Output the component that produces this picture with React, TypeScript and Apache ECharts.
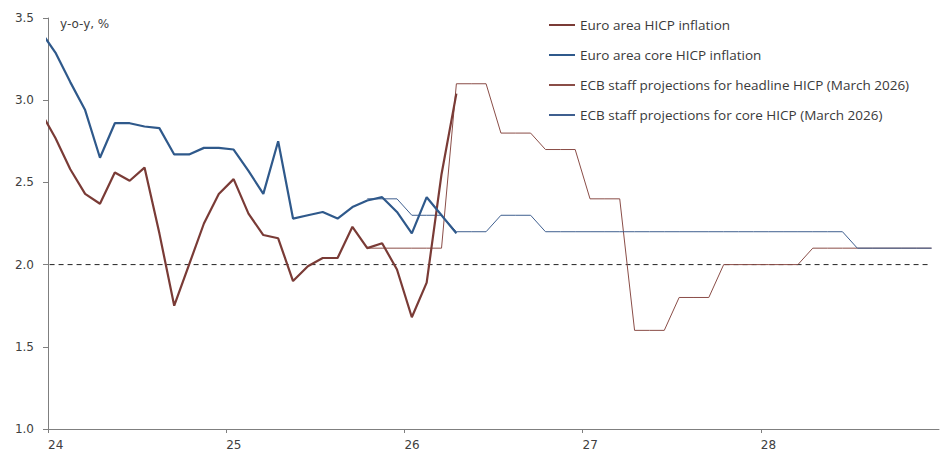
import React, { useEffect, useRef } from "react";
import * as echarts from "echarts";

// Monthly observations, Dec 2023 (month index -1) to Apr 2026 (month index 27)
const FIRST_MONTH_INDEX = -1;
const headlineHICP = [
  2.93, 2.77, 2.58, 2.43, 2.37, 2.56, 2.51, 2.59, 2.19, 1.75, 2.0, 2.25, 2.43,
  2.52, 2.31, 2.18, 2.16, 1.9, 1.99, 2.04, 2.04, 2.23, 2.1, 2.13, 1.97,
  1.68, 1.89, 2.55, 3.04,
];
const coreHICP = [
  3.42, 3.29, 3.11, 2.94, 2.65, 2.86, 2.86, 2.84, 2.83, 2.67, 2.67, 2.71, 2.71,
  2.7, 2.57, 2.43, 2.75, 2.28, 2.3, 2.32, 2.28, 2.35, 2.39, 2.41, 2.32,
  2.19, 2.41, 2.3, 2.19,
];

// Quarterly projections, Q4 2025 to Q4 2028 (first quarter starts at month index 21)
const PROJ_FIRST_MONTH_INDEX = 21;
const headlineProjQ = [2.1, 2.1, 3.1, 2.8, 2.7, 2.4, 1.6, 1.8, 2.0, 2.0, 2.1, 2.1, 2.1];
const coreProjQ = [2.4, 2.3, 2.2, 2.3, 2.2, 2.2, 2.2, 2.2, 2.2, 2.2, 2.2, 2.1, 2.1];

const TARGET = 2.0;
const xTickYears = ["24", "25", "26", "27", "28", "29"];

const seriesNames = [
  "Euro area HICP inflation",
  "Euro area core HICP inflation",
  "ECB staff projections for headline HICP (March 2026)",
  "ECB staff projections for core HICP (March 2026)",
];

const monthly = (vals: number[], start: number) =>
  vals.map((v, i) => [start + i + 0.5, v]);

const quarterlyToMonthly = (vals: number[], start: number) => {
  const out: number[][] = [];
  vals.forEach((v, q) => {
    for (let m = 0; m < 3; m++) out.push([start + q * 3 + m + 0.5, v]);
  });
  return out;
};

export default function App() {
  const ref = useRef<HTMLDivElement>(null);
  useEffect(() => {
    document.body.style.margin = "0";
    if (!ref.current) return;
    const chart = echarts.init(ref.current, undefined, { renderer: "svg" });
    const headlineProj = quarterlyToMonthly(headlineProjQ, PROJ_FIRST_MONTH_INDEX);
    const lastX = headlineProj[headlineProj.length - 1][0];
    const axisColor = "#7f7f7f";
    const labelColor = "#404040";
    chart.setOption({
      animation: false,
      grid: { left: 48, right: 12, top: 18, bottom: 31, containLabel: false },
      legend: {
        orient: "vertical",
        left: 548,
        top: 18,
        padding: 0,
        itemWidth: 26,
        itemHeight: 14,
        itemGap: 16,
        data: seriesNames,
        selectedMode: false,
        itemStyle: { opacity: 0 },
        textStyle: { fontFamily: "Open Sans", fontSize: 13.5, color: "#3a3a3a" },
      },
      graphic: [
        {
          type: "text",
          left: 60,
          top: 18,
          style: {
            text: "y-o-y, %",
            fontFamily: "DejaVu Sans",
            fontSize: 12,
            fill: labelColor,
          },
        },
      ],
      xAxis: {
        type: "value",
        min: 0,
        max: 60,
        interval: 12,
        splitLine: { show: false },
        axisLine: { show: true, lineStyle: { color: axisColor } },
        axisTick: { show: true, length: 4, lineStyle: { color: axisColor } },
        axisLabel: {
          showMaxLabel: false,
          align: "left",
          margin: 10,
          fontFamily: "DejaVu Sans",
          fontSize: 12,
          color: labelColor,
          formatter: (v: number) => xTickYears[Math.round(v / 12)],
        },
      },
      yAxis: {
        type: "value",
        min: 1,
        max: 3.5,
        interval: 0.5,
        splitLine: { show: false },
        axisLine: { show: true, lineStyle: { color: axisColor } },
        axisTick: { show: true, length: 5, lineStyle: { color: axisColor } },
        axisLabel: {
          margin: 14,
          fontFamily: "DejaVu Sans",
          fontSize: 12,
          color: labelColor,
          formatter: (v: number) => v.toFixed(1),
        },
      },
      series: [
        {
          type: "line",
          symbol: "none",
          silent: true,
          data: [
            [FIRST_MONTH_INDEX + 0.5, TARGET],
            [lastX, TARGET],
          ],
          lineStyle: { color: "#222222", width: 1, type: [5, 4] },
        },
        {
          name: seriesNames[2],
          type: "line",
          symbol: "none",
          data: headlineProj,
          lineStyle: { color: "#8a4d47", width: 1 },
          itemStyle: { color: "#8a4d47" },
        },
        {
          name: seriesNames[3],
          type: "line",
          symbol: "none",
          data: quarterlyToMonthly(coreProjQ, PROJ_FIRST_MONTH_INDEX),
          lineStyle: { color: "#3f5f8f", width: 1 },
          itemStyle: { color: "#3f5f8f" },
        },
        {
          name: seriesNames[0],
          type: "line",
          symbol: "none",
          data: monthly(headlineHICP, FIRST_MONTH_INDEX),
          lineStyle: { color: "#7a3b36", width: 2.2 },
          itemStyle: { color: "#7a3b36" },
        },
        {
          name: seriesNames[1],
          type: "line",
          symbol: "none",
          data: monthly(coreHICP, FIRST_MONTH_INDEX),
          lineStyle: { color: "#2f598b", width: 2.2 },
          itemStyle: { color: "#2f598b" },
        },
      ],
    });
    return () => chart.dispose();
  }, []);
  return <div ref={ref} style={{ width: 951, height: 460 }} />;
}
